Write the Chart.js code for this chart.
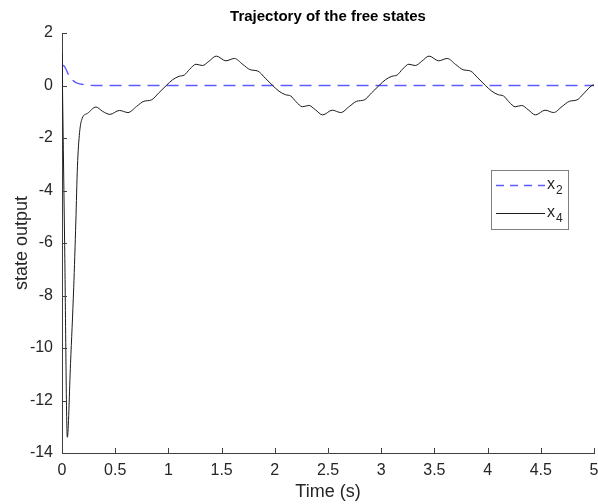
<!DOCTYPE html>
<html>
<head>
<meta charset="utf-8">
<script src="https://cdn.jsdelivr.net/npm/chart.js@4"></script>
<style>
  html, body { margin: 0; padding: 0; background: #fff; }
  #wrap { width: 598px; height: 504px; }
</style>
</head>
<body>
<div id="wrap"><canvas id="stateChart"></canvas></div>
<script>
// x2: fast decaying state
const t2 = [0, 0.02, 0.04, 0.06, 0.08, 0.1, 0.12, 0.15, 0.2, 0.25, 0.3, 5];
const x2 = [0.78, 0.74, 0.6, 0.42, 0.28, 0.2, 0.14, 0.08, 0.04, 0.01, 0, 0];

// x4: spike then rippled sine
const t4 = [0, 0.025, 0.05, 0.08, 0.11, 0.13, 0.145, 0.165, 0.19, 0.24, 0.32, 0.38, 0.45, 0.54, 0.62, 0.70, 0.77, 0.84, 0.91,
  0.98, 1.04, 1.10, 1.15, 1.20, 1.26, 1.32, 1.38, 1.45, 1.54, 1.62, 1.70, 1.77, 1.84, 1.91,
  1.98, 2.04, 2.10, 2.15, 2.20, 2.26, 2.32, 2.38, 2.45, 2.54, 2.62, 2.70, 2.77, 2.84, 2.91,
  2.98, 3.04, 3.10, 3.15, 3.20, 3.26, 3.32, 3.38, 3.45, 3.54, 3.62, 3.70, 3.77, 3.84, 3.91,
  3.98, 4.04, 4.10, 4.15, 4.20, 4.26, 4.32, 4.38, 4.45, 4.54, 4.62, 4.70, 4.77, 4.84, 4.91, 4.98, 5];
const x4 = [1.25, -6.1, -13.4, -10.6, -7.7, -5.2, -3.1, -1.8, -1.25, -1.06, -0.82, -0.98, -1.1, -0.95, -1.03, -0.8, -0.6, -0.55, -0.28,
  0, 0.22, 0.35, 0.4, 0.62, 0.81, 0.76, 0.92, 1.12, 0.94, 1.03, 0.8, 0.6, 0.55, 0.28,
  0, -0.22, -0.35, -0.4, -0.62, -0.81, -0.76, -0.92, -1.12, -0.94, -1.03, -0.8, -0.6, -0.55, -0.28,
  0, 0.22, 0.35, 0.4, 0.62, 0.81, 0.76, 0.92, 1.12, 0.94, 1.03, 0.8, 0.6, 0.55, 0.28,
  0, -0.22, -0.35, -0.4, -0.62, -0.81, -0.76, -0.92, -1.12, -0.94, -1.03, -0.8, -0.6, -0.55, -0.28, 0, 0.02];

const seriesNames = ['2', '4'];   // subscripts of x
const yTicks = { min: -14, max: 2, step: 2 };
const xTicks = { min: 0, max: 5, step: 0.5 };

const axisColor = '#404040';
const textColor = '#262626';
const fontFamily = '"Liberation Sans", Arial, Helvetica, sans-serif';

// MATLAB style: tick marks point into the plot
const inwardTicks = {
  id: 'inwardTicks',
  afterDatasetsDraw(chart) {
    const { ctx, chartArea, scales } = chart;
    ctx.save();
    ctx.strokeStyle = axisColor;
    ctx.lineWidth = 1;
    ctx.beginPath();
    scales.x.ticks.forEach(tk => {
      const px = Math.round(scales.x.getPixelForValue(tk.value)) + 0.5;
      ctx.moveTo(px, chartArea.bottom);
      ctx.lineTo(px, chartArea.bottom - 5);
    });
    scales.y.ticks.forEach(tk => {
      const py = Math.round(scales.y.getPixelForValue(tk.value)) + 0.5;
      ctx.moveTo(chartArea.left, py);
      ctx.lineTo(chartArea.left + 5, py);
    });
    ctx.stroke();
    ctx.restore();
  }
};

// boxed legend with subscripted labels
const boxLegend = {
  id: 'boxLegend',
  afterDatasetsDraw(chart) {
    const { ctx } = chart;
    const x0 = 491.5, y0 = 170.5, w = 77, h = 59;
    ctx.save();
    ctx.fillStyle = '#fff';
    ctx.fillRect(x0, y0, w, h);
    ctx.strokeStyle = '#7f7f7f';
    ctx.lineWidth = 1;
    ctx.strokeRect(x0, y0, w, h);
    chart.data.datasets.forEach((ds, i) => {
      const y = 185 + i * 28 + 0.5;
      ctx.strokeStyle = ds.borderColor;
      ctx.lineWidth = ds.borderWidth;
      ctx.setLineDash(i === 0 ? [8, 6] : []);
      ctx.beginPath();
      ctx.moveTo(496, y);
      ctx.lineTo(545, y);
      ctx.stroke();
      ctx.setLineDash([]);
      ctx.fillStyle = textColor;
      ctx.textBaseline = 'alphabetic';
      ctx.font = '16px ' + fontFamily;
      ctx.fillText('x', 547, y + 3);
      ctx.font = '12px ' + fontFamily;
      ctx.fillText(seriesNames[i], 556, y + 8);
    });
    ctx.restore();
  }
};

new Chart(document.getElementById('stateChart'), {
  type: 'line',
  data: {
    datasets: [{
      label: 'x2',
      data: t2.map((t, i) => ({ x: t, y: x2[i] })),
      borderColor: 'rgba(50, 50, 255, 0.8)',
      borderWidth: 1.4,
      borderDash: [12, 7],
      pointRadius: 0,
      cubicInterpolationMode: 'monotone',
      order: 2
    }, {
      label: 'x4',
      data: t4.map((t, i) => ({ x: t, y: x4[i] })),
      borderColor: '#1a1a1a',
      borderWidth: 1,
      pointRadius: 0,
      cubicInterpolationMode: 'monotone',
      order: 1
    }]
  },
  options: {
    responsive: true,
    maintainAspectRatio: false,
    animation: false,
    layout: { padding: { left: 0, right: 4, top: 0, bottom: 0 } },
    plugins: {
      legend: { display: false },
      tooltip: { enabled: false },
      title: {
        display: true,
        text: 'Trajectory of the free states',
        fullSize: false,
        color: '#000',
        font: { family: fontFamily, size: 15, weight: 'bold' },
        padding: { top: 8, bottom: 7 }
      }
    },
    scales: {
      x: {
        type: 'linear',
        min: xTicks.min,
        max: xTicks.max,
        ticks: {
          stepSize: xTicks.step,
          color: textColor,
          padding: 8,
          maxRotation: 0,
          font: { family: fontFamily, size: 16 },
          callback: v => String(Number(v))
        },
        grid: { display: true, drawOnChartArea: false, drawTicks: false },
        border: { display: true, color: axisColor, width: 1 },
        title: {
          display: true,
          text: 'Time (s)',
          color: textColor,
          font: { family: fontFamily, size: 18 },
          padding: { top: 0, bottom: 1 }
        },
        afterFit(scale) {
          scale.height = 51;
          scale.paddingLeft = 0;
          scale.paddingRight = 0;
        }
      },
      y: {
        min: yTicks.min,
        max: yTicks.max,
        ticks: {
          stepSize: yTicks.step,
          color: textColor,
          padding: 9,
          font: { family: fontFamily, size: 16 }
        },
        grid: { display: true, drawOnChartArea: false, drawTicks: false },
        border: { display: true, color: axisColor, width: 1 },
        title: {
          display: true,
          text: 'state output',
          color: textColor,
          font: { family: fontFamily, size: 18 },
          padding: { top: 11, bottom: 0 }
        },
        afterFit(scale) {
          scale.width = 62;
          scale.paddingTop = 0;
          scale.paddingBottom = 0;
        }
      }
    }
  },
  plugins: [inwardTicks, boxLegend]
});
</script>
</body>
</html>
